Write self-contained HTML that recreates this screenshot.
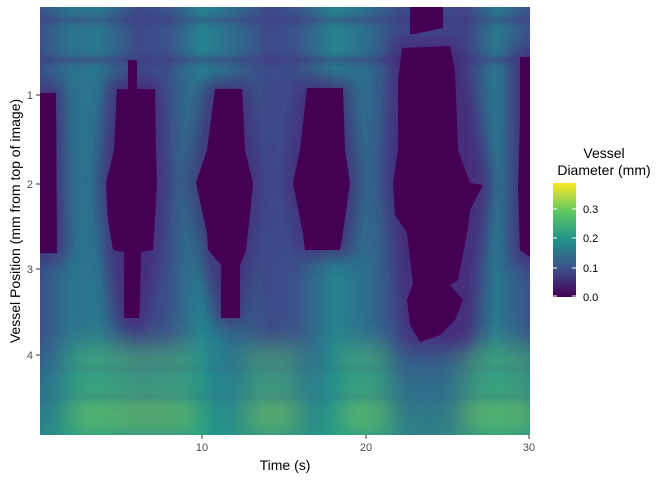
<!DOCTYPE html>
<html><head><style>
body{margin:0;background:#fff;width:672px;height:480px;overflow:hidden;font-family:"Liberation Sans",sans-serif}
</style></head><body>
<svg width="672" height="480" xmlns="http://www.w3.org/2000/svg" font-family="Liberation Sans, sans-serif">
<defs>
<linearGradient id="base" x1="40" x2="530" y1="0" y2="0" gradientUnits="userSpaceOnUse">
<stop offset="0" stop-color="#3b528b"/>
<stop offset="0.06" stop-color="#2c738e"/>
<stop offset="0.12" stop-color="#2a788e"/>
<stop offset="0.2" stop-color="#3e4a89"/>
<stop offset="0.26" stop-color="#3b528b"/>
<stop offset="0.33" stop-color="#25838e"/>
<stop offset="0.38" stop-color="#2c728e"/>
<stop offset="0.47" stop-color="#3e4a89"/>
<stop offset="0.52" stop-color="#3b528b"/>
<stop offset="0.6" stop-color="#25838e"/>
<stop offset="0.66" stop-color="#2d708e"/>
<stop offset="0.74" stop-color="#3e4a89"/>
<stop offset="0.87" stop-color="#404688"/>
<stop offset="0.93" stop-color="#2a788e"/>
<stop offset="1" stop-color="#3b528b"/>
</linearGradient>
<linearGradient id="bot" x1="0" x2="0" y1="335" y2="435" gradientUnits="userSpaceOnUse">
<stop offset="0" stop-color="#35b779" stop-opacity="0"/>
<stop offset="0.2" stop-color="#5ec962" stop-opacity="0.5"/>
<stop offset="0.55" stop-color="#35b779" stop-opacity="0.45"/>
<stop offset="0.8" stop-color="#8fd744" stop-opacity="0.6"/>
<stop offset="1" stop-color="#35b779" stop-opacity="0.5"/>
</linearGradient>
<linearGradient id="bot2" x1="0" x2="0" y1="335" y2="435" gradientUnits="userSpaceOnUse">
<stop offset="0" stop-color="#21918c" stop-opacity="0"/>
<stop offset="0.5" stop-color="#21918c" stop-opacity="0.5"/>
<stop offset="1" stop-color="#22a884" stop-opacity="0.6"/>
</linearGradient>
<linearGradient id="cb" x1="0" x2="0" y1="297" y2="183" gradientUnits="userSpaceOnUse">
<stop offset="0" stop-color="#440154"/>
<stop offset="0.25" stop-color="#3b528b"/>
<stop offset="0.5" stop-color="#21918c"/>
<stop offset="0.75" stop-color="#5ec962"/>
<stop offset="1" stop-color="#fde725"/>
</linearGradient>
<filter id="bl" x="-50%" y="-50%" width="200%" height="200%"><feGaussianBlur stdDeviation="9"/></filter>
<filter id="bl3" x="-50%" y="-50%" width="200%" height="200%"><feGaussianBlur stdDeviation="12"/></filter>
<filter id="bl2" x="-50%" y="-50%" width="200%" height="200%"><feGaussianBlur stdDeviation="3"/></filter>
<clipPath id="pc"><rect x="40" y="7" width="490" height="428"/></clipPath>
</defs>
<g clip-path="url(#pc)">
<rect x="40" y="7" width="490" height="428" fill="url(#base)"/>
<rect x="40" y="335" width="490" height="100" fill="url(#bot2)"/>
<g fill="url(#bot)" filter="url(#bl3)">
<rect x="68" y="335" width="130" height="110"/><rect x="245" y="335" width="55" height="110"/>
<rect x="340" y="335" width="50" height="110"/><rect x="460" y="335" width="80" height="110"/>
</g>
<g fill="#46337e" opacity="0.45" filter="url(#bl2)">
<rect x="40" y="17" width="490" height="6"/><rect x="40" y="56" width="490" height="8"/>
</g>
<g fill="#31688e" opacity="0.35" filter="url(#bl2)">
<rect x="40" y="395" width="490" height="4"/><rect x="40" y="367" width="490" height="3"/>
</g>
<g fill="#482878" opacity="0.8" filter="url(#bl)">
<polygon points="30,85 62,85 66,260 30,260"/>
<polygon points="108,78 160,78 165,183 160,255 145,330 118,330 105,255 98,183"/>
<polygon points="202,80 250,80 262,183 255,258 242,325 218,325 200,258 188,183"/>
<polygon points="296,78 350,78 360,183 352,258 298,258 285,183"/>
<polygon points="392,38 458,38 492,183 478,270 470,345 405,345 395,250 385,183"/>
<polygon points="512,50 540,50 540,265 512,265"/>
</g>
<g fill="#440154">
<polygon points="40,93 56,93 57,253 40,253"/>
<polygon points="117,89 155,89 156,150 157,183 153,250 141,252 140,300 139,318 124,318 124,252 113,250 108,220 106,183 114,150"/>
<polygon points="128,60 137,60 137,90 128,90"/>
<polygon points="215,89 242,89 245,150 253,183 248,233 246,250 240,265 240,318 221,318 221,265 208,250 207,233 196,183 207,150"/>
<polygon points="307,88 343,88 345,150 350,183 343,233 340,250 305,250 303,233 293,183 300,150"/>
<polygon points="410,7 443,7 443,28 415,34 410,34"/>
<polygon points="402,48 450,46 455,70 458,150 470,183 483,185 470,210 467,233 458,280 450,285 463,300 455,320 440,335 420,342 410,325 407,300 413,283 410,260 407,233 395,215 393,183 398,150 398,80"/>
<polygon points="520,57 530,57 530,257 520,250 518,190 520,120"/>
</g>
</g>
<g stroke="#333" stroke-width="1">
<line x1="36" y1="95" x2="40" y2="95"/><line x1="36" y1="184" x2="40" y2="184"/>
<line x1="36" y1="269" x2="40" y2="269"/><line x1="36" y1="355" x2="40" y2="355"/>
<line x1="202" y1="435" x2="202" y2="439"/><line x1="366" y1="435" x2="366" y2="439"/><line x1="529" y1="435" x2="529" y2="439"/>
</g>
<g font-size="11" fill="#4d4d4d">
<text x="33" y="99" text-anchor="end">1</text><text x="33" y="188" text-anchor="end">2</text>
<text x="33" y="273" text-anchor="end">3</text><text x="33" y="359" text-anchor="end">4</text>
<text x="202" y="451" text-anchor="middle">10</text><text x="366" y="451" text-anchor="middle">20</text><text x="529" y="451" text-anchor="middle">30</text>
</g>
<text x="285" y="470" font-size="14" text-anchor="middle" fill="#000">Time (s)</text>
<text transform="translate(20,221) rotate(-90)" font-size="14" text-anchor="middle" fill="#000">Vessel Position (mm from top of image)</text>
<text x="604" y="158" font-size="14" text-anchor="middle">Vessel</text>
<text x="604" y="175" font-size="14" text-anchor="middle">Diameter (mm)</text>
<rect x="553" y="183" width="23" height="114" fill="url(#cb)"/>
<g stroke="#fff" stroke-width="1">
<line x1="553" y1="209" x2="557" y2="209"/><line x1="572" y1="209" x2="576" y2="209"/>
<line x1="553" y1="238" x2="557" y2="238"/><line x1="572" y1="238" x2="576" y2="238"/>
<line x1="553" y1="268" x2="557" y2="268"/><line x1="572" y1="268" x2="576" y2="268"/>
<line x1="553" y1="296" x2="557" y2="296"/><line x1="572" y1="296" x2="576" y2="296"/>
</g>
<g font-size="11" fill="#000">
<text x="583" y="213">0.3</text><text x="583" y="242">0.2</text><text x="583" y="272">0.1</text><text x="583" y="301">0.0</text>
</g>
</svg>
</body></html>
